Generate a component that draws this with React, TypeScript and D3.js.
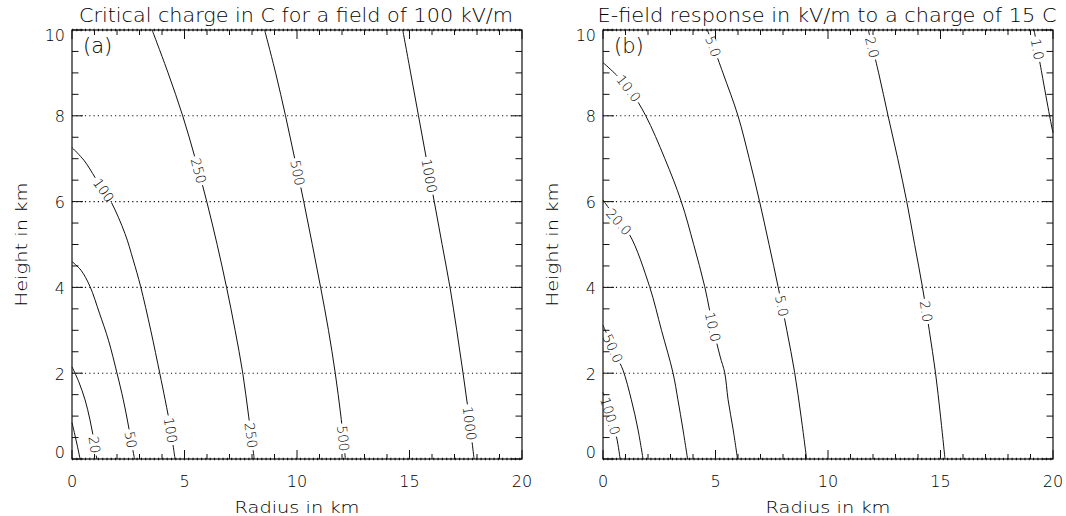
import * as d3 from 'd3';
import React, { useRef, useEffect } from 'react';

const svgWidth = 1066;
const svgHeight = 516;
const plotTop = 30;
const plotBottom = 459;
const plotWidth = 450;
const panelLefts = [72, 603];

const titles = [
  'Critical charge in C for a field of 100 kV/m',
  'E-field response in kV/m to a charge of 15 C',
];
const titleLengths = [434, 459];
const panelTags = ['(a)', '(b)'];
const xTicks = [0, 5, 10, 15, 20];
const yTicks = [0, 2, 4, 6, 8, 10];
const gridHeights = [0, 2, 4, 6, 8, 10];
const xTitle = 'Radius in km';
const yTitle = 'Height in km';

// panel (a): critical charge contours, points are [radius km, height km]
const levelsA = ['10', '20', '50', '100', '250', '500', '1000'];
const linesA = [
  [[0, 0.85], [0.12, 0.58], [0.24, 0.3], [0.36, 0]],
  [[0, 2.15], [0.3, 1.8], [0.58, 1.38], [0.8, 0.91], [0.97, 0.45], [1.1, 0]],
  [[0, 4.6], [0.4, 4.4], [0.8, 4.02], [1.22, 3.4], [1.62, 2.77], [2.0, 2.0], [2.28, 1.38], [2.46, 0.91], [2.62, 0.45], [2.78, 0]],
  [[0, 7.26], [0.55, 6.95], [1.1, 6.5], [1.69, 6.04], [2.35, 5.26], [2.72, 4.64], [3.05, 4.02], [3.5, 3.0], [3.9, 2.0], [4.14, 1.38], [4.35, 0.8], [4.58, 0]],
  [[3.56, 10], [4.27, 9], [4.92, 8], [5.48, 7], [5.99, 6], [6.45, 5], [6.87, 4], [7.25, 3], [7.59, 2], [7.85, 1], [8.1, 0]],
  [[8.56, 10], [9.05, 9], [9.49, 8], [9.9, 7], [10.3, 6], [10.68, 5], [11.05, 4], [11.4, 3], [11.7, 2], [11.95, 1], [12.15, 0]],
  [[14.7, 10], [15.05, 9], [15.4, 8], [15.75, 7], [16.1, 6], [16.45, 5], [16.8, 4], [17.1, 3], [17.38, 2], [17.64, 1], [17.87, 0]],
];
const labelHeightsA = [[], [0.33], [0.45], [6.27, 0.67], [6.72, 0.55], [6.67, 0.48], [6.6, 0.83]];

// panel (b): E-field contours
const levelsB = ['100.0', '50.0', '20.0', '10.0', '5.0', '2.0', '1.0'];
const linesB = [
  [[0, 1.55], [0.3, 1.05], [0.61, 0.49], [0.76, 0]],
  [[0, 3.12], [0.3, 2.75], [0.6, 2.4], [0.89, 2.07], [1.26, 1.38], [1.55, 0.7], [1.78, 0]],
  [[0, 6.04], [0.6, 5.6], [1.19, 5.22], [2.07, 4.02], [2.6, 3.0], [3.11, 2.01], [3.33, 1.38], [3.55, 0.7], [3.76, 0]],
  [[0, 9.24], [0.6, 8.95], [1.2, 8.6], [1.9, 8.0], [2.75, 7.0], [3.48, 6.0], [4.03, 5.0], [4.52, 4.02], [4.88, 3.1], [5.2, 2.4], [5.41, 2.01], [5.56, 1.38], [5.78, 0.7], [5.98, 0]],
  [[4.64, 10], [5.33, 9], [6.0, 8.0], [6.5, 7], [6.96, 6.0], [7.38, 5], [7.78, 4.02], [8.17, 3], [8.52, 2.01], [8.8, 1], [9.05, 0]],
  [[11.79, 10], [12.25, 9], [12.67, 8], [13.1, 7], [13.5, 6], [13.85, 5], [14.2, 4], [14.5, 3], [14.78, 2], [15.0, 1], [15.2, 0]],
  [[19.16, 10], [19.5, 9], [19.85, 8], [20, 7.6]],
];
const labelHeightsB = [[1.0], [2.58], [5.53], [8.64, 3.08], [9.62, 3.57], [9.6, 3.44], [9.55]];

const ink = '#111';
const textInk = '#000';
const font = "'DejaVu Sans', sans-serif";

function Panel({ index, levels, lines, labelHeights }) {
  const gRef = useRef(null);
  const left = panelLefts[index];
  const right = left + plotWidth;

  useEffect(() => {
    const g = d3.select(gRef.current);
    g.selectAll('*').remove();

    const xScale = d3.scaleLinear().domain([0, 20]).range([left, right]);
    const yScale = d3.scaleLinear().domain([0, 10]).range([plotBottom, plotTop]);

    // dotted height lines
    g.selectAll('.grid')
      .data(gridHeights)
      .join('line')
      .attr('x1', left)
      .attr('x2', right)
      .attr('y1', (d) => yScale(d))
      .attr('y2', (d) => yScale(d))
      .attr('stroke', ink)
      .attr('stroke-width', (d) => (d === 0 || d === 10 ? 2.4 : 1.1))
      .attr('stroke-dasharray', '1.2 3.1');

    // frame
    g.append('rect')
      .attr('x', left)
      .attr('y', plotTop)
      .attr('width', plotWidth)
      .attr('height', plotBottom - plotTop)
      .attr('fill', 'none')
      .attr('stroke', ink)
      .attr('stroke-width', 1.2);

    // x ticks, top and bottom
    const xMinor = d3.range(0, 21, 1);
    xMinor.forEach((v) => {
      const len = v % 5 === 0 ? 9 : 5;
      const px = xScale(v);
      g.append('line').attr('x1', px).attr('x2', px).attr('y1', plotBottom).attr('y2', plotBottom - len).attr('stroke', ink);
      g.append('line').attr('x1', px).attr('x2', px).attr('y1', plotTop).attr('y2', plotTop + len).attr('stroke', ink);
    });
    // y ticks, left and right
    const yMinor = d3.range(0, 10.01, 0.5);
    yMinor.forEach((v) => {
      const len = v % 2 === 0 ? 11 : 6.5;
      const py = yScale(v);
      g.append('line').attr('x1', left).attr('x2', left + len).attr('y1', py).attr('y2', py).attr('stroke', ink);
      g.append('line').attr('x1', right).attr('x2', right - len).attr('y1', py).attr('y2', py).attr('stroke', ink);
    });

    // tick labels
    g.selectAll('.xlab')
      .data(xTicks)
      .join('text')
      .attr('x', (d) => xScale(d))
      .attr('y', 487)
      .attr('text-anchor', 'middle')
      .attr('font-size', 16)
      .attr('fill', textInk)
      .text((d) => d);
    g.selectAll('.ylab')
      .data(yTicks)
      .join('text')
      .attr('x', left - 7)
      .attr('y', (d) => Math.min(plotBottom - 6.5, Math.max(plotTop + 5.5, yScale(d) + 1)))
      .attr('text-anchor', 'end')
      .attr('dominant-baseline', 'central')
      .attr('font-size', 16)
      .attr('fill', textInk)
      .text((d) => d);

    // contours
    const line = d3
      .line()
      .x((d) => xScale(d[0]))
      .y((d) => yScale(d[1]))
      .curve(d3.curveCatmullRom.alpha(0.5));

    lines.forEach((pts, i) => {
      const path = g
        .append('path')
        .attr('d', line(pts))
        .attr('fill', 'none')
        .attr('stroke', ink)
        .attr('stroke-width', 1);
      const node = path.node();
      const total = node.getTotalLength();
      const gaps = [];
      labelHeights[i].forEach((h) => {
        const ty = yScale(h);
        let lo = 0;
        let hi = total;
        for (let k = 0; k < 40; k++) {
          const mid = (lo + hi) / 2;
          if (node.getPointAtLength(mid).y < ty) lo = mid;
          else hi = mid;
        }
        const s = (lo + hi) / 2;
        const p = node.getPointAtLength(s);
        const p0 = node.getPointAtLength(Math.max(0, s - 3));
        const p1 = node.getPointAtLength(Math.min(total, s + 3));
        const ang = (Math.atan2(p1.y - p0.y, p1.x - p0.x) * 180) / Math.PI;
        const txt = g
          .append('text')
          .attr('transform', `translate(${p.x},${p.y}) rotate(${ang})`)
          .attr('text-anchor', 'middle')
          .attr('dominant-baseline', 'central')
          .attr('font-size', 13.5)
          .attr('fill', textInk)
          .text(levels[i]);
        const w = txt.node().getComputedTextLength();
        gaps.push([Math.max(0, s - w / 2 - 2), Math.min(total, s + w / 2 + 2)]);
      });
      if (gaps.length) {
        gaps.sort((a, b) => a[0] - b[0]);
        const dash = [];
        let pos = 0;
        gaps.forEach(([a, b]) => {
          dash.push(a - pos, b - a);
          pos = b;
        });
        dash.push(total - pos + 1, total);
        path.attr('stroke-dasharray', dash.join(' '));
      }
    });
  }, []);

  return (
    <g fontFamily={font} fontWeight={300}>
      <text
        x={left + plotWidth / 2 - 1}
        y={22}
        textAnchor="middle"
        fontSize={19}
        fill={textInk}
        textLength={titleLengths[index]}
        lengthAdjust="spacingAndGlyphs"
      >
        {titles[index]}
      </text>
      <text x={left + 11} y={53} fontSize={21} fill={textInk}>
        {panelTags[index]}
      </text>
      <text
        x={left + plotWidth / 2}
        y={512.5}
        textAnchor="middle"
        fontSize={16.5}
        fill={textInk}
        textLength={125}
        lengthAdjust="spacingAndGlyphs"
      >
        {xTitle}
      </text>
      <text
        transform={`translate(${left - 51},${(plotTop + plotBottom) / 2}) rotate(-90)`}
        textAnchor="middle"
        dominantBaseline="central"
        fontSize={16.5}
        fill={textInk}
        textLength={124}
        lengthAdjust="spacingAndGlyphs"
      >
        {yTitle}
      </text>
      <g ref={gRef} />
    </g>
  );
}

export default function App() {
  return (
    <svg
      width={svgWidth}
      height={svgHeight}
      style={{ position: 'absolute', left: 0, top: 0, background: '#fff' }}
    >
      <rect width={svgWidth} height={svgHeight} fill="#fff" />
      <Panel index={0} levels={levelsA} lines={linesA} labelHeights={labelHeightsA} />
      <Panel index={1} levels={levelsB} lines={linesB} labelHeights={labelHeightsB} />
    </svg>
  );
}
